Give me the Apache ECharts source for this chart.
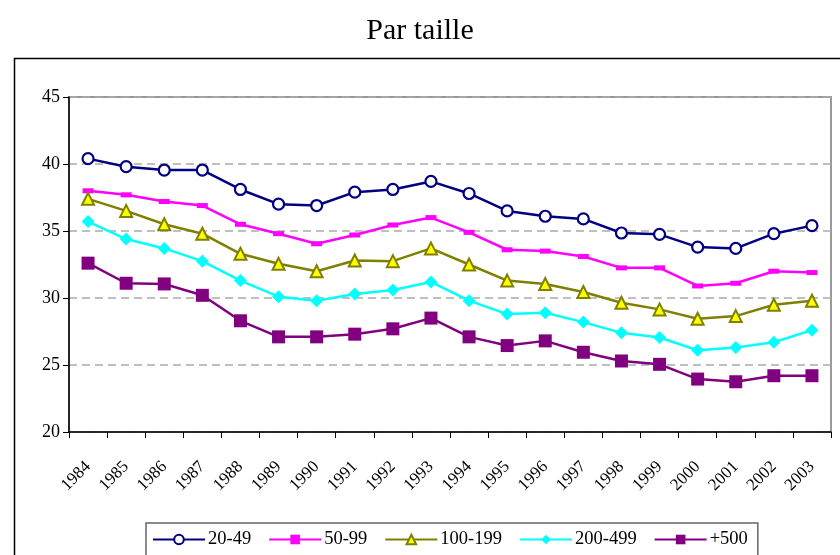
<!DOCTYPE html>
<html>
<head>
<meta charset="utf-8">
<script src="https://cdn.jsdelivr.net/npm/echarts@6/dist/echarts.min.js"></script>
<style>
  html, body { margin: 0; padding: 0; background: #fff; }
  #chart { width: 840px; height: 555px; }
</style>
</head>
<body>
<div id="chart"></div>
<script>
var years = ['1984','1985','1986','1987','1988','1989','1990','1991','1992','1993',
             '1994','1995','1996','1997','1998','1999','2000','2001','2002','2003'];
var s20_49   = [40.4, 39.8, 39.55, 39.55, 38.1, 37.0, 36.9, 37.9, 38.1, 38.7,
                37.8, 36.5, 36.1, 35.9, 34.85, 34.75, 33.8, 33.7, 34.8, 35.4];
var s50_99   = [38.0, 37.7, 37.2, 36.9, 35.5, 34.8, 34.05, 34.7, 35.45, 36.0,
                34.9, 33.6, 33.5, 33.1, 32.25, 32.25, 30.9, 31.1, 32.0, 31.9];
var s100_199 = [37.4, 36.5, 35.5, 34.8, 33.3, 32.55, 32.0, 32.8, 32.75, 33.7,
                32.5, 31.3, 31.05, 30.45, 29.65, 29.15, 28.45, 28.65, 29.5, 29.8];
var s200_499 = [35.7, 34.4, 33.7, 32.75, 31.3, 30.1, 29.8, 30.3, 30.6, 31.2,
                29.8, 28.8, 28.9, 28.2, 27.4, 27.05, 26.1, 26.3, 26.7, 27.6];
var s500     = [32.6, 31.1, 31.05, 30.2, 28.3, 27.1, 27.1, 27.3, 27.7, 28.5,
                27.1, 26.45, 26.8, 25.95, 25.3, 25.05, 23.95, 23.75, 24.2, 24.2];
var yMin = 20, yMax = 45, yStep = 5;

var font = '"Liberation Serif", "DejaVu Serif", serif';
var myChart = echarts.init(document.getElementById('chart'));

myChart.setOption({
    animation: false,
    title: {
        text: 'Par taille',
        left: 'center',
        top: 11,
        textStyle: { fontFamily: font, fontSize: 30, fontWeight: 'normal', color: '#000' }
    },
    graphic: [{
        // cadre extérieur du graphique
        type: 'rect',
        left: 12, top: 56,
        shape: { width: 840, height: 600 },
        style: { fill: 'none', stroke: '#000', lineWidth: 1.5 },
        silent: true
    }],
    legend: {
        left: 146,
        top: 523,
        padding: [7, 10, 20, 6],
        itemGap: 17,
        itemWidth: 52,
        itemHeight: 12,
        borderColor: '#666',
        borderWidth: 1.5,
        textStyle: { fontFamily: font, fontSize: 18.5, color: '#000', padding: [0, 0, 0, -2] },
        data: ['20-49', '50-99', '100-199', '200-499', '+500']
    },
    grid: {
        left: 69, right: 9, top: 97, bottom: 123,
        show: true,
        borderColor: '#999',
        borderWidth: 2
    },
    xAxis: {
        type: 'category',
        data: years,
        boundaryGap: true,
        axisLine: { lineStyle: { color: '#000', width: 1.5 } },
        axisTick: { show: true, length: 6, lineStyle: { color: '#000' } },
        axisLabel: {
            interval: 0,
            rotate: 45,
            margin: 32,
            color: '#000',
            fontFamily: font,
            fontSize: 17
        },
        splitLine: { show: false }
    },
    yAxis: {
        type: 'value',
        min: yMin, max: yMax, interval: yStep,
        axisLine: { show: true, lineStyle: { color: '#000', width: 1.5 } },
        axisTick: { show: true, length: 6, lineStyle: { color: '#000' } },
        axisLabel: { margin: 9, color: '#000', fontFamily: font, fontSize: 18 },
        splitLine: { show: true, lineStyle: { color: '#aaa', type: [8, 5], width: 1.5 } }
    },
    series: [{
        name: '20-49',
        type: 'line',
        data: s20_49,
        symbol: 'circle',
        symbolSize: 11,
        color: '#000080',
        lineStyle: { width: 2.5, color: '#000080' },
        itemStyle: { color: '#fff', borderColor: '#000080', borderWidth: 2.2 }
    }, {
        name: '50-99',
        type: 'line',
        data: s50_99,
        symbol: 'rect',
        symbolSize: [11, 5],
        color: '#ff00ff',
        lineStyle: { width: 2.5, color: '#ff00ff' },
        itemStyle: { color: '#ff00ff', borderWidth: 0 }
    }, {
        name: '100-199',
        type: 'line',
        data: s100_199,
        symbol: 'triangle',
        symbolSize: 12,
        color: '#808000',
        lineStyle: { width: 2.5, color: '#808000' },
        itemStyle: { color: '#ffff00', borderColor: '#808000', borderWidth: 2 }
    }, {
        name: '200-499',
        type: 'line',
        data: s200_499,
        symbol: 'diamond',
        symbolSize: 13,
        color: '#00ffff',
        lineStyle: { width: 2.5, color: '#00ffff' },
        itemStyle: { color: '#00ffff', borderWidth: 0 }
    }, {
        name: '+500',
        type: 'line',
        data: s500,
        symbol: 'rect',
        symbolSize: 13,
        color: '#800080',
        lineStyle: { width: 2.5, color: '#800080' },
        itemStyle: { color: '#800080', borderWidth: 0 }
    }]
});
window.onresize = myChart.resize;
</script>
</body>
</html>
